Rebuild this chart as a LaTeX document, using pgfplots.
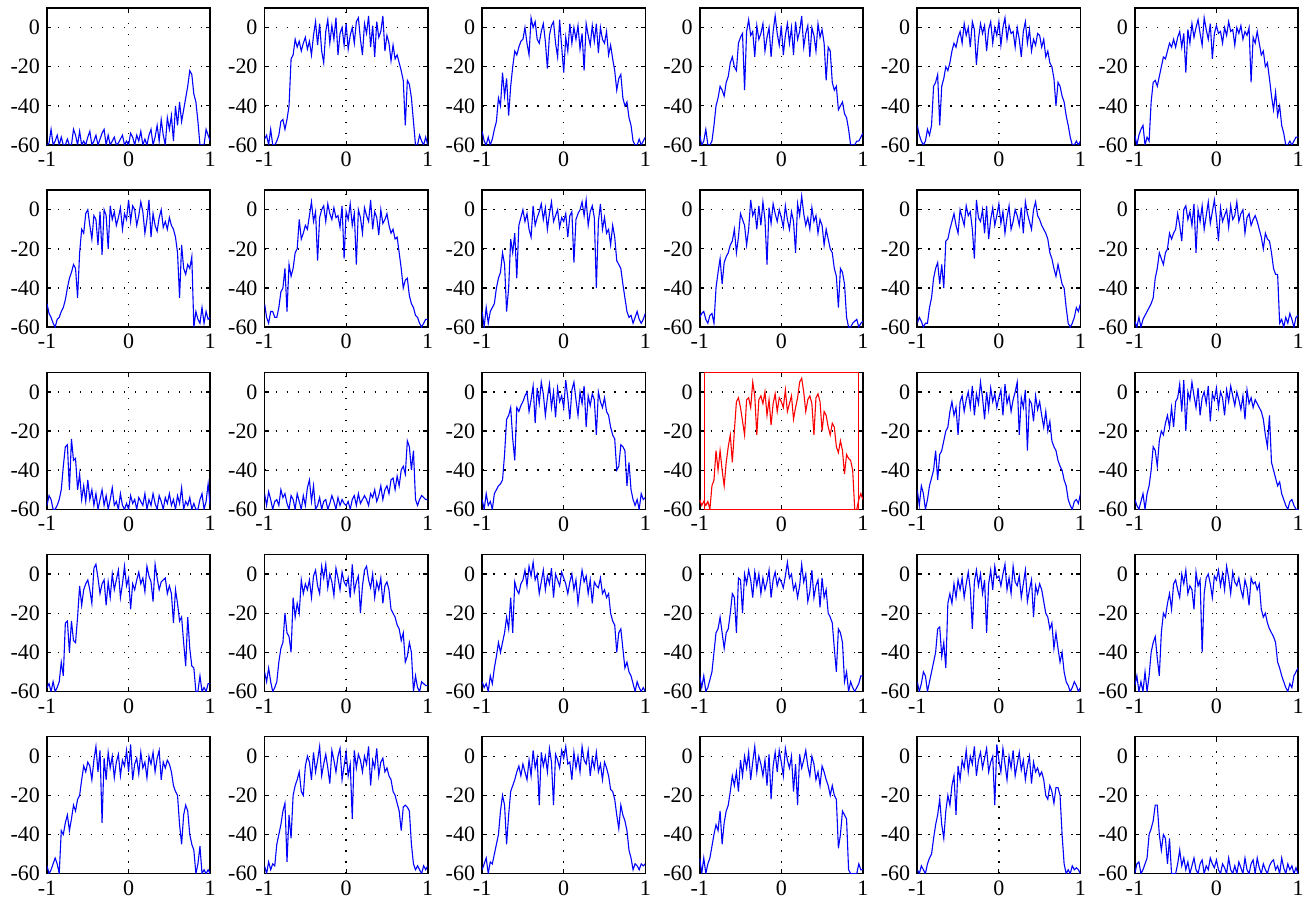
\documentclass[border=0pt]{standalone}
\usepackage{fontspec}
\setmainfont{Liberation Serif}
\usepackage{pgfplots}
\pgfplotsset{compat=1.18}
\usepgfplotslibrary{groupplots}
\newcommand\panel[2][blue]{\nextgroupplot\addplot[#1,line width=0.55pt] table[x expr=\coordindex/40-1,y index=0,header=false,row sep=\\]{#2};}
\begin{document}
\begin{tikzpicture}
\begin{groupplot}[
  group style={group size=6 by 5, horizontal sep=27.2pt, vertical sep=22.6pt, group name=G},
  width=81.6pt, height=68.5pt, scale only axis,
  xmin=-1, xmax=1, ymin=-60, ymax=10,
  xtick={-1,0,1}, xticklabels={-1,0,1},
  ytick={-60,-40,-20,0}, yticklabels={-60,-40,-20,0},
  grid=major, grid style={black, line width=0.7pt, dash pattern=on 0.7pt off 4.8pt},
  axis line style={black, line width=0.8pt},
  tick align=inside, major tick length=2.2pt, tick style={black, line width=0.6pt},
  ticklabel style={font=\fontsize{11}{12}\selectfont},
  clip=true,
]
% Row 1
\panel{-60\\ -59\\ -52\\ -60\\ -58\\ -55\\ -60\\ -56\\ -60\\ -60\\
-57\\ -60\\ -60\\ -52\\ -55\\ -60\\ -53\\ -60\\ -58\\ -60\\
-56\\ -53\\ -60\\ -58\\ -55\\ -60\\ -57\\ -54\\ -52\\ -60\\
-55\\ -60\\ -58\\ -56\\ -60\\ -59\\ -57\\ -55\\ -60\\ -58\\
-60\\ -54\\ -56\\ -60\\ -55\\ -58\\ -53\\ -60\\ -57\\ -60\\
-55\\ -52\\ -60\\ -56\\ -50\\ -58\\ -47\\ -55\\ -60\\ -46\\
-52\\ -45\\ -58\\ -40\\ -50\\ -38\\ -48\\ -42\\ -36\\ -30\\
-22\\ -24\\ -34\\ -38\\ -48\\ -60\\ -60\\ -60\\ -52\\ -55\\
-58\\}
\panel{-57\\ -55\\ -60\\ -52\\ -60\\ -60\\ -58\\ -55\\ -48\\ -47\\
-52\\ -47\\ -40\\ -16\\ -14\\ -6\\ -10\\ -7\\ -12\\ -8\\
-5\\ -11\\ -7\\ -14\\ -4\\ 3\\ -9\\ 2\\ -12\\ -18\\
-2\\ 4\\ -8\\ 1\\ -6\\ 5\\ -14\\ -3\\ 0\\ -9\\
2\\ -11\\ -4\\ 0\\ -8\\ 3\\ 5\\ -6\\ -14\\ 2\\
-3\\ 6\\ -10\\ 1\\ -15\\ 3\\ -5\\ -2\\ 6\\ -12\\
-4\\ -8\\ -17\\ -9\\ -16\\ -14\\ -18\\ -22\\ -27\\ -50\\
-27\\ -29\\ -36\\ -48\\ -60\\ -60\\ -55\\ -58\\ -60\\ -56\\
-60\\}
\panel{-53\\ -58\\ -60\\ -56\\ -60\\ -57\\ -52\\ -48\\ -36\\ -40\\
-23\\ -35\\ -26\\ -45\\ -30\\ -20\\ -12\\ -14\\ -10\\ -7\\
-6\\ 0\\ -8\\ -14\\ 5\\ 0\\ 3\\ -6\\ -8\\ -2\\
2\\ -7\\ -21\\ -4\\ 1\\ 3\\ -8\\ -15\\ 4\\ -10\\
-23\\ -5\\ -12\\ 2\\ -8\\ 0\\ -6\\ 1\\ -11\\ -3\\
-22\\ 2\\ -4\\ -9\\ 1\\ -7\\ 2\\ -13\\ 0\\ -6\\
-8\\ -2\\ -14\\ -9\\ -16\\ -22\\ -32\\ -26\\ -24\\ -36\\
-40\\ -38\\ -46\\ -50\\ -58\\ -60\\ -60\\ -57\\ -60\\ -58\\
-56\\}
\panel{-55\\ -60\\ -58\\ -52\\ -60\\ -60\\ -58\\ -50\\ -40\\ -36\\
-30\\ -32\\ -35\\ -28\\ -25\\ -18\\ -15\\ -20\\ -22\\ -8\\
-5\\ -3\\ -32\\ -2\\ 4\\ -4\\ -2\\ -15\\ 1\\ -6\\
-3\\ 2\\ -12\\ -5\\ 0\\ -15\\ -2\\ 6\\ -3\\ -9\\
1\\ -14\\ -4\\ 2\\ -8\\ 0\\ -14\\ 3\\ -6\\ -2\\
6\\ -10\\ -3\\ 1\\ -15\\ 0\\ -4\\ -12\\ 2\\ -5\\
-1\\ -8\\ -27\\ -10\\ -12\\ -28\\ -32\\ -30\\ -42\\ -40\\
-38\\ -44\\ -46\\ -52\\ -60\\ -60\\ -60\\ -58\\ -58\\ -56\\
-54\\}
\panel{-50\\ -55\\ -58\\ -60\\ -58\\ -52\\ -55\\ -50\\ -30\\ -28\\
-24\\ -50\\ -30\\ -26\\ -20\\ -22\\ -18\\ -12\\ -8\\ -10\\
-5\\ -2\\ -8\\ 2\\ -4\\ 0\\ -10\\ 3\\ -1\\ -19\\
-6\\ 2\\ -3\\ 1\\ -12\\ -1\\ 3\\ -8\\ 0\\ -4\\
3\\ -9\\ 0\\ 5\\ -6\\ 1\\ -3\\ -2\\ -10\\ 0\\
-6\\ -15\\ -2\\ 3\\ -8\\ -1\\ -12\\ -6\\ -9\\ -3\\
-4\\ -10\\ -6\\ -15\\ -12\\ -18\\ -20\\ -26\\ -40\\ -28\\
-30\\ -35\\ -38\\ -45\\ -50\\ -56\\ -60\\ -60\\ -58\\ -60\\
-58\\}
\panel{-55\\ -60\\ -55\\ -52\\ -50\\ -60\\ -56\\ -58\\ -38\\ -28\\
-27\\ -30\\ -25\\ -20\\ -15\\ -16\\ -12\\ -8\\ -10\\ -6\\
-10\\ -5\\ -2\\ -10\\ -3\\ -23\\ -1\\ -8\\ 2\\ -5\\
0\\ 4\\ -3\\ -9\\ 5\\ -1\\ -6\\ 2\\ -16\\ -3\\
1\\ -3\\ -2\\ -8\\ 0\\ -4\\ 3\\ -2\\ -1\\ -9\\
0\\ -3\\ 1\\ -6\\ -2\\ -4\\ 0\\ -28\\ -5\\ -8\\
-2\\ -8\\ -14\\ -12\\ -20\\ -18\\ -26\\ -35\\ -42\\ -33\\
-45\\ -40\\ -50\\ -54\\ -60\\ -60\\ -58\\ -60\\ -58\\ -56\\
-56\\}
% Row 2
\panel{-48\\ -53\\ -55\\ -58\\ -60\\ -56\\ -55\\ -52\\ -50\\ -46\\
-40\\ -35\\ -32\\ -28\\ -30\\ -45\\ -22\\ -10\\ -12\\ -2\\
0\\ -8\\ -15\\ -3\\ -5\\ -18\\ -1\\ -23\\ 0\\ -3\\
-20\\ 2\\ -5\\ -1\\ -8\\ -4\\ 1\\ -10\\ -2\\ -5\\
5\\ -6\\ 2\\ 0\\ -8\\ -3\\ 4\\ -1\\ -12\\ -5\\
5\\ -14\\ -2\\ -8\\ -11\\ -4\\ 0\\ -9\\ -6\\ -10\\
-4\\ -8\\ -10\\ -14\\ -22\\ -45\\ -18\\ -30\\ -33\\ -28\\
-30\\ -24\\ -60\\ -52\\ -56\\ -58\\ -50\\ -58\\ -52\\ -56\\
-55\\}
\panel{-48\\ -55\\ -58\\ -52\\ -52\\ -55\\ -55\\ -50\\ -42\\ -40\\
-30\\ -52\\ -28\\ -34\\ -30\\ -22\\ -20\\ -5\\ -15\\ -12\\
-8\\ -10\\ -3\\ 4\\ -6\\ -1\\ -26\\ -4\\ 0\\ 2\\
-6\\ 3\\ -2\\ -5\\ 1\\ -4\\ -3\\ -9\\ 2\\ -25\\
-1\\ -5\\ 3\\ -8\\ -2\\ -28\\ 0\\ -4\\ -12\\ 1\\
-3\\ -6\\ 5\\ -10\\ -1\\ -4\\ -13\\ 0\\ -7\\ -5\\
-2\\ -8\\ -12\\ -10\\ -15\\ -14\\ -22\\ -30\\ -40\\ -36\\
-35\\ -44\\ -48\\ -50\\ -54\\ -55\\ -58\\ -60\\ -58\\ -56\\
-56\\}
\panel{-52\\ -60\\ -50\\ -58\\ -52\\ -50\\ -48\\ -40\\ -35\\ -32\\
-22\\ -28\\ -52\\ -40\\ -15\\ -22\\ -12\\ -35\\ -8\\ -4\\
0\\ -6\\ -2\\ -10\\ -14\\ 2\\ -8\\ -4\\ -1\\ 3\\
-5\\ 1\\ -10\\ -2\\ 4\\ -6\\ -3\\ 0\\ -9\\ -4\\
-6\\ -2\\ -14\\ -3\\ -1\\ -27\\ -5\\ -2\\ 0\\ 4\\
-3\\ 5\\ -8\\ -1\\ 2\\ -4\\ -40\\ -6\\ 3\\ -10\\
-4\\ -12\\ -10\\ -18\\ -8\\ -14\\ -26\\ -28\\ -30\\ -38\\
-45\\ -52\\ -55\\ -54\\ -58\\ -55\\ -52\\ -56\\ -58\\ -56\\
-53\\}
\panel{-55\\ -53\\ -52\\ -56\\ -58\\ -54\\ -53\\ -58\\ -40\\ -32\\
-25\\ -38\\ -27\\ -24\\ -22\\ -18\\ -16\\ -10\\ -22\\ -14\\
-2\\ -5\\ -8\\ -18\\ -10\\ 5\\ -3\\ 0\\ -10\\ 2\\
-8\\ 4\\ -5\\ -28\\ 1\\ -7\\ 3\\ -2\\ -6\\ 0\\
-4\\ -9\\ 2\\ -5\\ -10\\ -1\\ -6\\ -22\\ 3\\ -3\\
7\\ -2\\ -8\\ -4\\ -10\\ 1\\ -6\\ -3\\ -12\\ -5\\
-8\\ -18\\ -10\\ -15\\ -20\\ -22\\ -30\\ -34\\ -50\\ -30\\
-32\\ -38\\ -55\\ -60\\ -60\\ -58\\ -57\\ -56\\ -60\\ -58\\
-57\\}
\panel{-58\\ -55\\ -57\\ -60\\ -58\\ -58\\ -50\\ -45\\ -35\\ -30\\
-27\\ -38\\ -28\\ -40\\ -16\\ -15\\ -10\\ -6\\ -2\\ -8\\
-12\\ 0\\ -4\\ -8\\ 2\\ -3\\ -1\\ -10\\ -25\\ 5\\
-4\\ -6\\ 0\\ -12\\ 2\\ -15\\ -5\\ 1\\ -8\\ -3\\
3\\ -7\\ -1\\ -12\\ -4\\ 2\\ -10\\ -6\\ 0\\ -3\\
-8\\ 1\\ -12\\ 4\\ -2\\ -6\\ -10\\ 0\\ 4\\ -3\\
-5\\ -8\\ -10\\ -12\\ -15\\ -22\\ -25\\ -30\\ -34\\ -28\\
-33\\ -38\\ -40\\ -50\\ -58\\ -60\\ -58\\ -55\\ -50\\ -52\\
-48\\}
\panel{-57\\ -60\\ -55\\ -60\\ -56\\ -54\\ -52\\ -50\\ -48\\ -45\\
-35\\ -30\\ -22\\ -25\\ -28\\ -22\\ -20\\ -12\\ -15\\ -12\\
-10\\ -2\\ -8\\ -16\\ 0\\ 2\\ -5\\ -1\\ -8\\ 3\\
-22\\ 0\\ -6\\ 2\\ -10\\ -3\\ 4\\ -7\\ -1\\ 5\\
-4\\ -16\\ 1\\ -6\\ -3\\ 0\\ -9\\ 2\\ -5\\ -3\\
4\\ -6\\ -2\\ 0\\ -12\\ -4\\ -2\\ -8\\ -5\\ -3\\
-6\\ -10\\ -14\\ -20\\ -12\\ -15\\ -16\\ -22\\ -30\\ -33\\
-33\\ -58\\ -56\\ -60\\ -55\\ -58\\ -53\\ -56\\ -60\\ -55\\
-54\\}
% Row 3
\panel{-58\\ -53\\ -55\\ -60\\ -60\\ -58\\ -55\\ -50\\ -38\\ -28\\
-27\\ -50\\ -24\\ -35\\ -34\\ -50\\ -42\\ -55\\ -48\\ -56\\
-45\\ -55\\ -50\\ -58\\ -52\\ -60\\ -55\\ -50\\ -58\\ -53\\
-60\\ -55\\ -49\\ -58\\ -56\\ -60\\ -52\\ -58\\ -60\\ -57\\
-60\\ -53\\ -57\\ -55\\ -60\\ -54\\ -56\\ -58\\ -52\\ -60\\
-55\\ -58\\ -52\\ -57\\ -60\\ -53\\ -56\\ -60\\ -54\\ -57\\
-52\\ -58\\ -55\\ -60\\ -53\\ -57\\ -49\\ -60\\ -56\\ -58\\
-54\\ -60\\ -57\\ -60\\ -60\\ -55\\ -52\\ -60\\ -56\\ -47\\
-58\\}
\panel{-52\\ -58\\ -51\\ -55\\ -60\\ -56\\ -55\\ -58\\ -50\\ -54\\
-52\\ -57\\ -60\\ -53\\ -55\\ -60\\ -52\\ -56\\ -60\\ -53\\
-58\\ -49\\ -45\\ -56\\ -48\\ -60\\ -58\\ -54\\ -60\\ -56\\
-55\\ -60\\ -57\\ -53\\ -56\\ -60\\ -54\\ -58\\ -55\\ -57\\
-58\\ -56\\ -60\\ -55\\ -53\\ -58\\ -52\\ -57\\ -55\\ -53\\
-55\\ -58\\ -52\\ -54\\ -50\\ -56\\ -53\\ -48\\ -55\\ -50\\
-48\\ -52\\ -45\\ -44\\ -50\\ -43\\ -48\\ -40\\ -38\\ -42\\
-25\\ -28\\ -40\\ -30\\ -55\\ -58\\ -55\\ -53\\ -54\\ -55\\
-55\\}
\panel{-55\\ -60\\ -52\\ -58\\ -56\\ -60\\ -52\\ -50\\ -48\\ -47\\
-45\\ -32\\ -14\\ -12\\ -8\\ -24\\ -35\\ -8\\ -10\\ -7\\
-5\\ -2\\ 0\\ -10\\ -4\\ 3\\ -16\\ 2\\ -6\\ 5\\
-1\\ -12\\ -3\\ 4\\ -8\\ 0\\ -13\\ 2\\ -5\\ -2\\
-8\\ 6\\ -3\\ -14\\ 1\\ 5\\ -4\\ -12\\ 0\\ -6\\
3\\ -18\\ -2\\ -7\\ -1\\ -4\\ -22\\ 0\\ -5\\ -8\\
-3\\ -10\\ -12\\ -18\\ -22\\ -24\\ -40\\ -38\\ -27\\ -28\\
-30\\ -48\\ -36\\ -50\\ -55\\ -58\\ -55\\ -60\\ -52\\ -55\\
-54\\}
\nextgroupplot
\addplot[red,line width=0.55pt] table[x expr=\coordindex/40-1,y index=0,header=false,row sep=\\]{-55\\ -58\\ -56\\ -58\\ -56\\ -60\\ -48\\ -45\\ -30\\ -40\\
-30\\ -40\\ -48\\ -36\\ -28\\ -22\\ -36\\ -20\\ -5\\ -3\\
-8\\ -15\\ -22\\ -4\\ -3\\ -8\\ 5\\ -2\\ -22\\ -4\\
-2\\ -6\\ 0\\ -12\\ -4\\ -17\\ -6\\ -1\\ -10\\ -3\\
-5\\ -8\\ 1\\ -10\\ -6\\ -2\\ -14\\ -8\\ -3\\ 5\\
7\\ 0\\ -10\\ -4\\ -2\\ -6\\ -22\\ -3\\ -1\\ -5\\
-20\\ -10\\ -12\\ -18\\ -22\\ -16\\ -18\\ -28\\ -31\\ -25\\
-30\\ -42\\ -32\\ -34\\ -35\\ -40\\ -60\\ -60\\ -55\\ -52\\
-55\\};
\draw[red, line width=0.7pt] (axis cs:-0.94,-60) rectangle (axis cs:0.95,10);
\panel{-50\\ -58\\ -48\\ -52\\ -60\\ -55\\ -48\\ -44\\ -40\\ -30\\
-45\\ -32\\ -30\\ -25\\ -20\\ -18\\ -10\\ -5\\ -12\\ -8\\
-22\\ -5\\ -2\\ -10\\ -4\\ 0\\ -8\\ 3\\ -12\\ -1\\
-6\\ 5\\ -3\\ -14\\ 0\\ -9\\ 2\\ -5\\ -1\\ -8\\
-3\\ 1\\ -12\\ 4\\ -6\\ -2\\ -10\\ -4\\ 0\\ 5\\
-22\\ -3\\ -8\\ 1\\ -30\\ -4\\ -6\\ -15\\ -2\\ -9\\
-5\\ -12\\ -18\\ -10\\ -20\\ -15\\ -25\\ -28\\ -30\\ -35\\
-38\\ -40\\ -45\\ -48\\ -55\\ -58\\ -60\\ -56\\ -55\\ -57\\
-52\\}
\panel{-55\\ -58\\ -60\\ -56\\ -52\\ -60\\ -52\\ -48\\ -40\\ -28\\
-30\\ -38\\ -25\\ -20\\ -22\\ -16\\ -12\\ -18\\ -8\\ -18\\
-5\\ -3\\ 4\\ -10\\ 6\\ -20\\ 0\\ -4\\ 5\\ -2\\
-8\\ 2\\ -12\\ -3\\ 0\\ -6\\ 3\\ -15\\ -1\\ -4\\
2\\ -8\\ 0\\ -3\\ -12\\ 1\\ -5\\ 3\\ -2\\ -7\\
0\\ -4\\ -9\\ -2\\ -14\\ 1\\ -6\\ -3\\ -8\\ -4\\
-6\\ -8\\ -10\\ -14\\ -22\\ -28\\ -12\\ -36\\ -40\\ -44\\
-48\\ -46\\ -52\\ -55\\ -58\\ -60\\ -56\\ -55\\ -58\\ -60\\
-60\\}
% Row 4
\panel{-58\\ -56\\ -60\\ -55\\ -60\\ -58\\ -55\\ -45\\ -52\\ -25\\
-24\\ -40\\ -24\\ -34\\ -35\\ -22\\ -6\\ -16\\ -8\\ -5\\
-3\\ -8\\ -15\\ 3\\ 5\\ -2\\ -10\\ -5\\ -3\\ -16\\
-4\\ -12\\ 0\\ -8\\ -3\\ 2\\ -12\\ -5\\ 4\\ -6\\
-2\\ -18\\ -5\\ -8\\ -3\\ 1\\ -5\\ -2\\ -9\\ 4\\
-1\\ -4\\ -14\\ 5\\ -2\\ -8\\ -4\\ -3\\ -2\\ -10\\
-6\\ -10\\ -25\\ -8\\ -15\\ -24\\ -22\\ -35\\ -47\\ -22\\
-38\\ -47\\ -48\\ -60\\ -60\\ -52\\ -60\\ -58\\ -60\\ -56\\
-56\\}
\panel{-50\\ -55\\ -48\\ -55\\ -60\\ -58\\ -55\\ -45\\ -38\\ -35\\
-20\\ -30\\ -32\\ -40\\ -12\\ -22\\ -15\\ -20\\ -3\\ -10\\
-5\\ -8\\ -3\\ -12\\ -1\\ 2\\ -6\\ -10\\ 4\\ -2\\
5\\ -7\\ 0\\ -4\\ -11\\ 3\\ -2\\ -8\\ 1\\ -4\\
-6\\ -2\\ -12\\ 5\\ -9\\ -4\\ -1\\ -20\\ -6\\ 2\\
4\\ -3\\ -7\\ 0\\ -12\\ -4\\ -8\\ -2\\ -15\\ -6\\
-4\\ -8\\ -18\\ -20\\ -22\\ -26\\ -28\\ -34\\ -30\\ -45\\
-42\\ -35\\ -40\\ -60\\ -52\\ -58\\ -60\\ -55\\ -56\\ -57\\
-57\\}
\panel{-55\\ -58\\ -56\\ -60\\ -52\\ -56\\ -48\\ -42\\ -35\\ -40\\
-35\\ -30\\ -22\\ -28\\ -12\\ -30\\ -4\\ -8\\ -10\\ -5\\
-3\\ 2\\ -6\\ 4\\ -1\\ 6\\ -3\\ 0\\ -10\\ -4\\
2\\ -8\\ -1\\ -5\\ 3\\ -12\\ 0\\ -3\\ -6\\ 1\\
-2\\ -5\\ -10\\ -4\\ 0\\ -8\\ -3\\ -15\\ -6\\ 2\\
-4\\ -1\\ -10\\ -3\\ -15\\ -4\\ -6\\ -7\\ -2\\ -10\\
-8\\ -12\\ -10\\ -20\\ -24\\ -26\\ -40\\ -30\\ -28\\ -38\\
-48\\ -45\\ -50\\ -52\\ -56\\ -60\\ -55\\ -58\\ -60\\ -58\\
-60\\}
\panel{-52\\ -58\\ -52\\ -60\\ -58\\ -54\\ -50\\ -40\\ -30\\ -28\\
-22\\ -30\\ -38\\ -30\\ -28\\ -20\\ -10\\ -12\\ -30\\ -2\\
-3\\ -20\\ 0\\ -5\\ 2\\ -3\\ -12\\ 1\\ -6\\ 0\\
-10\\ -2\\ -8\\ -4\\ 2\\ -12\\ -3\\ 1\\ -6\\ -2\\
-4\\ -7\\ -1\\ 6\\ -2\\ 0\\ -8\\ -5\\ -12\\ -6\\
5\\ -4\\ 0\\ -14\\ -9\\ 2\\ -12\\ -6\\ -3\\ -17\\
-2\\ -12\\ -8\\ -20\\ -22\\ -25\\ -38\\ -50\\ -28\\ -30\\
-35\\ -55\\ -50\\ -60\\ -55\\ -58\\ -60\\ -58\\ -56\\ -52\\
-52\\}
\panel{-55\\ -60\\ -56\\ -50\\ -52\\ -60\\ -55\\ -50\\ -45\\ -40\\
-28\\ -27\\ -42\\ -35\\ -48\\ -15\\ -10\\ -15\\ -5\\ -12\\
-3\\ -8\\ -2\\ -12\\ -5\\ 1\\ -8\\ -28\\ -4\\ 2\\
-6\\ 0\\ -10\\ -3\\ -30\\ -5\\ 2\\ -8\\ 4\\ -2\\
-1\\ -6\\ 0\\ 5\\ -8\\ -2\\ -10\\ 4\\ -4\\ -6\\
-1\\ -12\\ -5\\ 2\\ -14\\ -8\\ -3\\ -22\\ -6\\ -10\\
-5\\ -8\\ -14\\ -20\\ -22\\ -28\\ -25\\ -38\\ -30\\ -38\\
-45\\ -40\\ -50\\ -55\\ -57\\ -60\\ -58\\ -55\\ -57\\ -60\\
-58\\}
\panel{-57\\ -52\\ -60\\ -55\\ -60\\ -50\\ -60\\ -52\\ -40\\ -35\\
-32\\ -43\\ -52\\ -30\\ -20\\ -22\\ -15\\ -10\\ -18\\ -5\\
-3\\ -8\\ -12\\ 0\\ -5\\ 2\\ -10\\ -6\\ -8\\ -18\\
1\\ -6\\ -3\\ -40\\ -10\\ -2\\ 0\\ -5\\ -12\\ -1\\
-3\\ 2\\ -6\\ 0\\ -8\\ 4\\ -2\\ -10\\ 1\\ -4\\
-6\\ -2\\ -8\\ -12\\ -3\\ -7\\ -16\\ -2\\ -5\\ -4\\
-8\\ -5\\ -18\\ -22\\ -20\\ -25\\ -28\\ -30\\ -32\\ -35\\
-45\\ -48\\ -52\\ -55\\ -58\\ -60\\ -56\\ -58\\ -52\\ -50\\
-48\\}
% Row 5
\panel{-56\\ -60\\ -58\\ -55\\ -52\\ -55\\ -60\\ -38\\ -40\\ -34\\
-30\\ -38\\ -32\\ -25\\ -28\\ -22\\ -20\\ -12\\ -5\\ -8\\
-3\\ -5\\ -12\\ -2\\ 5\\ -8\\ 3\\ -34\\ -1\\ -12\\
2\\ -6\\ 0\\ -11\\ -3\\ 1\\ -10\\ -2\\ -5\\ 3\\
-8\\ 6\\ -12\\ -4\\ -1\\ -9\\ 2\\ -6\\ -3\\ -11\\
0\\ -4\\ 2\\ -8\\ -1\\ 3\\ -12\\ -3\\ -6\\ -2\\
-4\\ -8\\ -15\\ -18\\ -20\\ -35\\ -45\\ -30\\ -25\\ -28\\
-40\\ -45\\ -48\\ -60\\ -55\\ -46\\ -60\\ -58\\ -60\\ -58\\
-60\\}
\panel{-56\\ -60\\ -54\\ -58\\ -55\\ -56\\ -45\\ -40\\ -35\\ -28\\
-24\\ -54\\ -30\\ -42\\ -20\\ -15\\ -12\\ -8\\ -18\\ -20\\
-5\\ 0\\ -3\\ -12\\ 2\\ -8\\ -2\\ 5\\ -10\\ -4\\
1\\ -6\\ -14\\ 3\\ -2\\ -8\\ 0\\ 4\\ -12\\ -5\\
2\\ -10\\ -4\\ -32\\ 3\\ -6\\ 1\\ -2\\ -8\\ 0\\
-4\\ 5\\ -15\\ -2\\ -6\\ 4\\ -10\\ -3\\ -1\\ -8\\
-6\\ -10\\ -12\\ -18\\ -20\\ -24\\ -28\\ -38\\ -26\\ -25\\
-26\\ -28\\ -45\\ -55\\ -58\\ -56\\ -58\\ -60\\ -56\\ -58\\
-56\\}
\panel{-58\\ -55\\ -52\\ -60\\ -54\\ -55\\ -50\\ -45\\ -40\\ -28\\
-20\\ -25\\ -45\\ -30\\ -18\\ -15\\ -12\\ -8\\ -5\\ -10\\
-4\\ -8\\ -12\\ -2\\ -10\\ 3\\ -6\\ -1\\ -25\\ 2\\
-5\\ 0\\ -8\\ 4\\ -3\\ -25\\ 1\\ -2\\ -6\\ 3\\
-1\\ 5\\ -4\\ -3\\ -12\\ 2\\ -6\\ 0\\ -8\\ 5\\
-2\\ -4\\ 3\\ -10\\ -1\\ -6\\ 2\\ -8\\ -4\\ -12\\
-3\\ -6\\ -10\\ -17\\ -18\\ -22\\ -30\\ -37\\ -25\\ -30\\
-33\\ -38\\ -48\\ -52\\ -58\\ -55\\ -56\\ -58\\ -55\\ -56\\
-55\\}
\panel{-52\\ -60\\ -52\\ -60\\ -55\\ -52\\ -46\\ -40\\ -35\\ -38\\
-28\\ -45\\ -34\\ -28\\ -25\\ -18\\ -10\\ -15\\ -8\\ -18\\
-2\\ -10\\ 0\\ -6\\ 2\\ -12\\ -3\\ 5\\ -8\\ 0\\
-4\\ -10\\ -2\\ -15\\ 1\\ -22\\ -5\\ 2\\ -8\\ 3\\
-3\\ -10\\ 4\\ -2\\ -6\\ 0\\ -18\\ -4\\ -25\\ 1\\
-6\\ -2\\ 3\\ -5\\ -10\\ 0\\ -4\\ -12\\ -8\\ -15\\
-5\\ -8\\ -12\\ -15\\ -20\\ -15\\ -20\\ -22\\ -47\\ -40\\
-28\\ -30\\ -32\\ -58\\ -60\\ -60\\ -60\\ -60\\ -55\\ -58\\
-58\\}
\panel{-58\\ -60\\ -56\\ -58\\ -60\\ -55\\ -52\\ -50\\ -42\\ -35\\
-30\\ -22\\ -35\\ -42\\ -28\\ -20\\ -25\\ -15\\ -10\\ -30\\
-5\\ -12\\ -2\\ -6\\ 3\\ -8\\ 0\\ -4\\ 5\\ -10\\
-2\\ 2\\ -6\\ -1\\ 4\\ -8\\ -3\\ 0\\ -25\\ 6\\
-2\\ -8\\ 4\\ -4\\ -12\\ 0\\ -6\\ 3\\ -10\\ -4\\
2\\ -7\\ -2\\ -12\\ -5\\ 0\\ -14\\ -3\\ -8\\ -6\\
-10\\ -8\\ -12\\ -20\\ -22\\ -15\\ -18\\ -24\\ -16\\ -16\\
-20\\ -40\\ -55\\ -60\\ -58\\ -60\\ -56\\ -58\\ -57\\ -58\\
-60\\}
\panel{-60\\ -55\\ -54\\ -60\\ -58\\ -55\\ -52\\ -40\\ -37\\ -33\\
-25\\ -25\\ -40\\ -48\\ -40\\ -42\\ -55\\ -42\\ -60\\ -60\\
-60\\ -55\\ -48\\ -56\\ -52\\ -58\\ -54\\ -60\\ -56\\ -52\\
-58\\ -60\\ -55\\ -53\\ -60\\ -56\\ -58\\ -52\\ -55\\ -57\\
-53\\ -58\\ -60\\ -55\\ -57\\ -60\\ -52\\ -58\\ -60\\ -56\\
-60\\ -54\\ -57\\ -60\\ -52\\ -58\\ -60\\ -55\\ -53\\ -60\\
-52\\ -57\\ -60\\ -55\\ -58\\ -60\\ -56\\ -54\\ -53\\ -58\\
-56\\ -60\\ -52\\ -57\\ -60\\ -55\\ -58\\ -56\\ -60\\ -57\\
-60\\}
\end{groupplot}
\pgfresetboundingbox
\path[use as bounding box] ([xshift=-23.5pt,yshift=4pt]G c1r1.north west) rectangle ([xshift=3pt,yshift=-13.5pt]G c6r5.south east);
\end{tikzpicture}
\end{document}
